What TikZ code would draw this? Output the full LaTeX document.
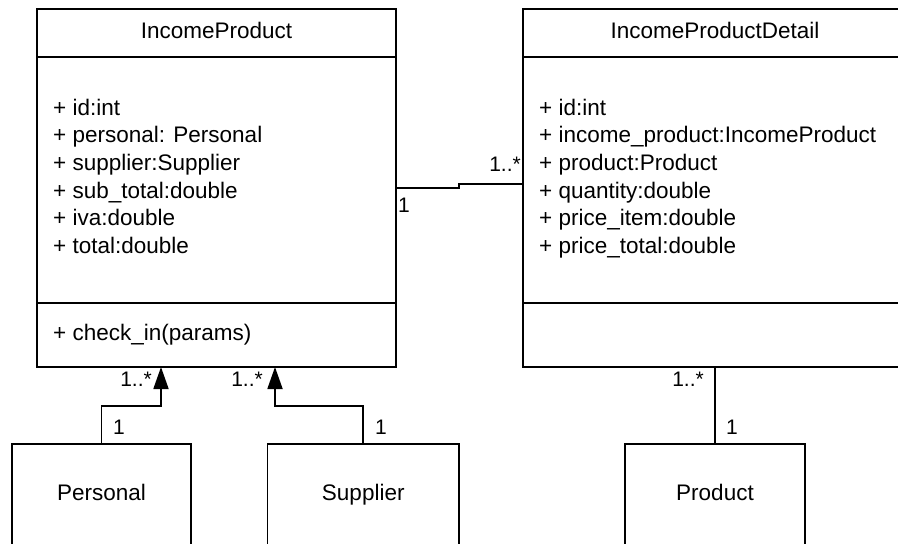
\documentclass[tikz,border=0pt]{standalone}
\usepackage{fontspec}
\setmainfont{Liberation Sans}
\usetikzlibrary{arrows.meta}
\begin{document}
\begin{tikzpicture}[x=1pt,y=-1pt,
  box/.style={draw=black, line width=1.8pt, inner sep=0pt, outer sep=0pt, anchor=north west},
  txt/.style={font=\fontsize{22.5}{27}\selectfont, inner sep=0pt, text=black},
  lbl/.style={font=\fontsize{21}{25}\selectfont, inner sep=0pt, text=black},
  conn/.style={line width=1.8pt},
  assoc/.style={conn, -{Triangle[length=22pt,width=15pt]}}
]
\useasboundingbox (0,0) rectangle (898,544);
% IncomeProduct
\node[box, minimum width=359pt, minimum height=48pt] (ipT) at (37,9) {};
\node[box, minimum width=359pt, minimum height=246pt] (ipA) at (37,57) {};
\node[box, minimum width=359pt, minimum height=64pt] (ipO) at (37,303) {};
\node[txt, anchor=base] (ipTt) at (216.5,38.5) {IncomeProduct};
\foreach \t [count=\i from 0] in {+ id:int, + personal: Personal, + supplier:Supplier, + sub\_total:double, + iva:double, + total:double}
  \node[txt, anchor=base west] (ipa\i) at (53,115+27.7*\i) {\t};
\node[txt, anchor=base west] (ipo0) at (53,340) {+ check\_in(params)};
% IncomeProductDetail
\node[box, minimum width=384pt, minimum height=48pt] (ipdT) at (523,9) {};
\node[box, minimum width=384pt, minimum height=246pt] (ipdA) at (523,57) {};
\node[box, minimum width=384pt, minimum height=64pt] (ipdO) at (523,303) {};
\node[txt, anchor=base] (ipdTt) at (715,38.5) {IncomeProductDetail};
\foreach \t [count=\i from 0] in {+ id:int, + income\_product:IncomeProduct, + product:Product, + quantity:double, + price\_item:double, + price\_total:double}
  \node[txt, anchor=base west] (ipda\i) at (539,115+27.7*\i) {\t};
% bottom classes
\node[box, minimum width=179pt, minimum height=120pt] (pers) at (12,444) {};
\node[box, minimum width=191.5pt, minimum height=120pt] (sup) at (267.5,444) {};
\node[box, minimum width=180pt, minimum height=120pt] (prod) at (625,444) {};
\node[txt, anchor=base] (persT) at (101.5,500) {Personal};
\node[txt, anchor=base] (supT) at (363.25,500) {Supplier};
\node[txt, anchor=base] (prodT) at (715,500) {Product};
% association IncomeProduct -- IncomeProductDetail
\coordinate (j1) at (459,188);
\coordinate (j2) at (459,184.3);
\draw[conn] (ipA.east |- j1) -- (j1) -- (j2) -- (ipdA.west |- j2);
\node[lbl, anchor=base west] (m1) at (398,212) {1};
\node[lbl, anchor=base east] (m2) at (521,171.5) {1..*};
% Personal -> IncomeProduct
\coordinate (pj) at (161,406);
\draw[assoc] (pers.north) |- (pj) -- (pj |- ipO.south);
\node[lbl, anchor=base east] (m3) at (152,386) {1..*};
\node[lbl, anchor=base west] (m4) at (113,434) {1};
% Supplier -> IncomeProduct
\coordinate (sj) at (275,406);
\draw[assoc] (sup.north) |- (sj) -- (sj |- ipO.south);
\node[lbl, anchor=base east] (m5) at (263,386) {1..*};
\node[lbl, anchor=base west] (m6) at (375,434) {1};
% Product -- IncomeProductDetail
\draw[conn] (prod.north) -- (prod.north |- ipdO.south);
\node[lbl, anchor=base east] (m7) at (704,386) {1..*};
\node[lbl, anchor=base west] (m8) at (726,434) {1};
\end{tikzpicture}
\end{document}
